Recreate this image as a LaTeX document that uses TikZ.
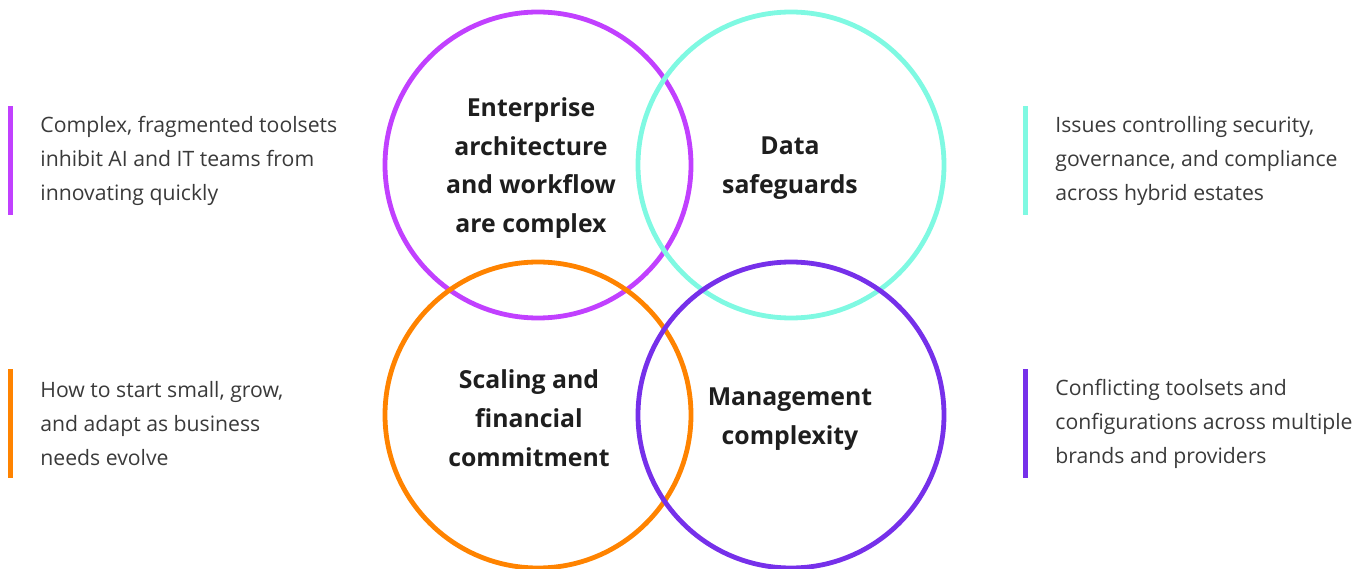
\documentclass[tikz,border=0pt]{standalone}
\usepackage{fontspec}
\setmainfont{Open Sans}
\usetikzlibrary{positioning}
\definecolor{hpemagenta}{HTML}{C140FF}
\definecolor{hpeteal}{HTML}{7FF9E2}
\definecolor{hpeorange}{HTML}{FF8300}
\definecolor{hpeviolet}{HTML}{7630EA}
\definecolor{inkdark}{HTML}{1E1E1E}
\definecolor{inkgrey}{HTML}{3A3A3A}
\begin{document}
\begin{tikzpicture}[x=1pt, y=-1pt,
  ring/.style={draw=#1, line width=4.8pt, circle, minimum size=306pt, inner sep=0pt},
  heading/.style={align=center, text=inkdark, inner sep=0pt,
    font=\fontsize{24.8}{38.7}\selectfont\bfseries},
  sidebar/.style={fill=#1, minimum width=4.5pt, minimum height=109pt, inner sep=0pt},
  sidetext/.style={align=left, text=inkgrey, inner sep=0pt, anchor=west,
    font=\fontsize{21.2}{34}\selectfont}]
\useasboundingbox (0,0) rectangle (1366,569);
% the four rings
\node [ring=hpemagenta] (arch) at (538,165) {};
\node [ring=hpeteal] (data) at (791,165) {};
\node [ring=hpeorange] (scale) at (538,415) {};
\node [ring=hpeviolet] (mgmt) at (791,415) {};
% ring titles
\node [heading] (archtext) at ([xshift=-7pt, yshift=-3pt]arch.center) {Enterprise\\architecture\\and workflow\\are complex};
\node [heading] (datatext) at ([xshift=-1pt, yshift=-3pt]data.center) {Data\\safeguards};
\node [heading] (scaletext) at ([xshift=-9pt, yshift=-3pt]scale.center) {Scaling and\\financial\\commitment};
\node [heading] (mgmttext) at ([xshift=-1pt, yshift=-4pt]mgmt.center) {Management\\complexity};
% side notes
\node [sidebar=hpemagenta] (archbar) at (10.5,160.5) {};
\node [sidetext, right=27.25pt of archbar] (archnote) {Complex, fragmented toolsets\\inhibit AI and IT teams from\\innovating quickly};
\node [sidebar=hpeteal] (databar) at (1025.5,160.5) {};
\node [sidetext, right=27.25pt of databar] (datanote) {Issues controlling security,\\governance, and compliance\\across hybrid estates};
\node [sidebar=hpeorange] (scalebar) at (10.5,423.5) {};
\node [sidetext, right=27.25pt of scalebar] (scalenote) {How to start small, grow,\\and adapt as business\\needs evolve};
\node [sidebar=hpeviolet] (mgmtbar) at (1025.5,423.5) {};
\node [sidetext, right=27.25pt of mgmtbar] (mgmtnote) {Conflicting toolsets and\\configurations across multiple\\brands and providers};
\end{tikzpicture}
\end{document}
